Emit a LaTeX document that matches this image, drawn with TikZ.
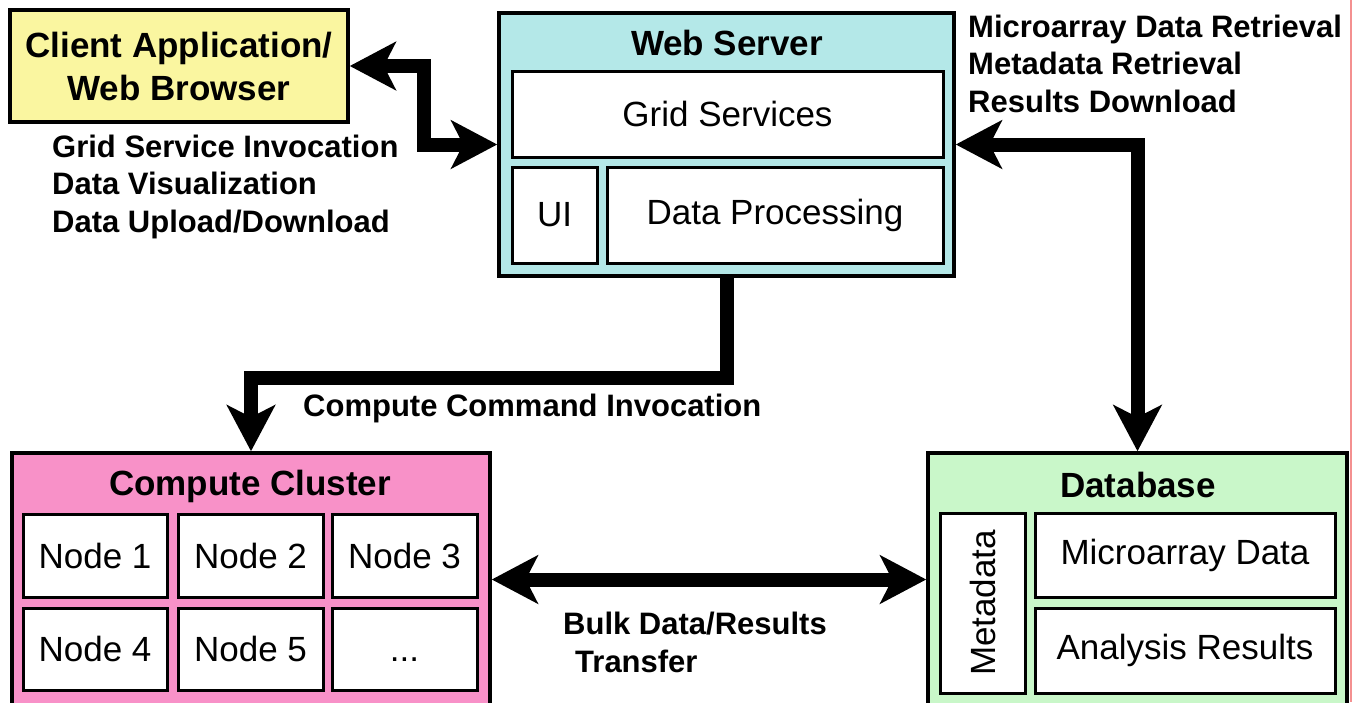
\documentclass[tikz,border=0pt]{standalone}
\usepackage{fontspec}
\setmainfont{Liberation Sans}
\usetikzlibrary{arrows.meta}
\definecolor{cyellow}{HTML}{FAF6A0}
\definecolor{ccyan}{HTML}{B4E8E8}
\definecolor{cpink}{HTML}{F891C8}
\definecolor{cgreen}{HTML}{C9F7C9}
\definecolor{pinkline}{HTML}{F49090}
\begin{document}
\begin{tikzpicture}[x=1pt,y=-1pt, line join=miter,
  outer/.style={draw=black, line width=3.5pt, inner sep=0pt},
  innerbox/.style={draw=black, line width=3pt, fill=white, inner sep=0pt, font=\fontsize{35}{42}\selectfont},
  title/.style={font=\fontsize{35}{43}\selectfont\bfseries, inner sep=0pt, anchor=base},
  lbl/.style={font=\fontsize{31}{37.5}\selectfont\bfseries, inner sep=0pt, align=left, anchor=base west},
  conn/.style={line width=14pt, draw=black},
  >={Stealth[length=46pt,width=48pt,inset=12pt]}
]
\useasboundingbox (0,0) rectangle (1366,702);
\clip (0,0) rectangle (1366,702);
\fill[white] (0,0) rectangle (1366,702);

% Client
\node[outer, fill=cyellow, minimum width=338pt, minimum height=112pt, align=center,
      font=\fontsize{35}{43}\selectfont\bfseries] (client) at (179,66) {Client Application/\\Web Browser};

% Web server
\node[outer, fill=ccyan, minimum width=455pt, minimum height=263pt] (ws) at (726.5,144.5) {};
\node[title] (wst) at (727,55) {Web Server};
\node[innerbox, minimum width=431pt, minimum height=86pt] (gs) at (727.5,114) {Grid Services};
\node[innerbox, minimum width=85pt, minimum height=96pt] (ui) at (554.5,215) {UI};
\node[innerbox, minimum width=336pt, minimum height=96pt] (dp) at (775,215) {Data Processing};

% Compute cluster
\node[outer, fill=cpink, minimum width=478pt, minimum height=253pt] (cc) at (251,579.5) {};
\node[title] (cct) at (250,495) {Compute Cluster};
\node[innerbox, minimum width=144pt, minimum height=83pt] (n1) at (95,555.5) {Node 1};
\node[innerbox, minimum width=145pt, minimum height=83pt] (n2) at (250.5,555.5) {Node 2};
\node[innerbox, minimum width=145pt, minimum height=83pt] (n3) at (404.5,555.5) {Node 3};
\node[innerbox, minimum width=144pt, minimum height=82pt] (n4) at (95,649) {Node 4};
\node[innerbox, minimum width=145pt, minimum height=82pt] (n5) at (250.5,649) {Node 5};
\node[innerbox, minimum width=145pt, minimum height=82pt] (n6) at (404.5,649) {\vphantom{Node 4}...};

% Database
\node[outer, fill=cgreen, minimum width=419pt, minimum height=253pt] (db) at (1137.5,579.5) {};
\node[title] (dbt) at (1138,497) {Database};
\node[innerbox, minimum width=85pt, minimum height=180pt] (md) at (982.5,603) {};
\node[font=\fontsize{35}{42}\selectfont, rotate=90, inner sep=0pt] (mdt) at (md.center) {Metadata};
\node[innerbox, minimum width=300pt, minimum height=84pt] (mad) at (1185,555) {Microarray Data};
\node[innerbox, minimum width=300pt, minimum height=85pt] (ar) at (1185,650.5) {Analysis Results};

% Labels (anchor = baseline of last line)
\node[lbl] (l1) at (52,232) {Grid Service Invocation\\Data Visualization\\Data Upload/Download};
\node[lbl] (l2) at (968,112) {Microarray Data Retrieval\\Metadata Retrieval\\Results Download};
\node[lbl] (l3) at (303,416) {Compute Command Invocation};
\node[lbl] (l4) at (563,672) {Bulk Data/Results\\\hspace*{12pt}Transfer};

% Connectors
\coordinate (m1) at (424,0);
\coordinate (m2) at (0,378);
\draw[conn,<->] (client.east) -- (client.east -| m1) -- (ws.west -| m1) -- (ws.west);
\draw[conn,<->] (ws.east) -| (db.north);
\draw[conn,->] (ws.south) -- (ws.south |- m2) -| (cc.north);
\draw[conn,<->] (cc.east) -- (db.west);

\draw[pinkline, line width=2pt] (1351,0) -- (1351,702);
\end{tikzpicture}
\end{document}
